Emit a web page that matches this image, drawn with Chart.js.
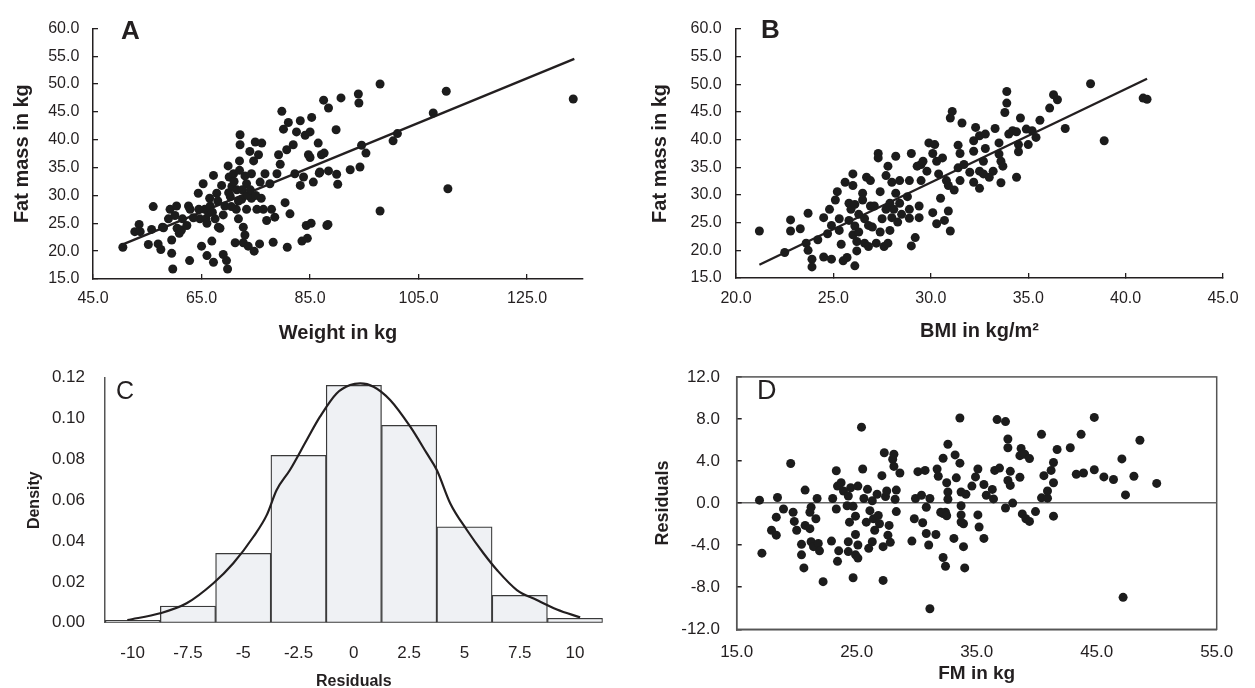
<!DOCTYPE html>
<html>
<head>
<meta charset="utf-8">
<script src="https://cdn.jsdelivr.net/npm/chart.js@4.4.1/dist/chart.umd.min.js"></script>
<style>
  html, body { margin: 0; padding: 0; background: #fff; overflow: hidden; }
  body { width: 1255px; height: 688px; position: relative; }
  canvas { position: absolute; }
</style>
</head>
<body>
<canvas id="chA" width="620" height="348" style="left:0;top:0"></canvas>
<canvas id="chB" width="625" height="348" style="left:630px;top:0"></canvas>
<canvas id="chC" width="625" height="350" style="left:0;top:345px"></canvas>
<canvas id="chD" width="630" height="350" style="left:625px;top:345px"></canvas>
<script>
// ── DATA ──────────────────────────────────────────────
// A: weight vs fat mass
var aWeight = [50.5,53.5,52.7,53.7,55.8,56.1,55.2,57.0,57.5,57.8,58.9,59.2,59.5,59.5,59.7,60.1,60.4,60.5,60.9,61.3,
  62.3,62.6,62.8,62.9,64.4,64.7,65.0,65.3,65.6,65.8,66.0,66.3,66.6,66.9,67.2,67.2,67.5,67.8,68.1,68.4,
  68.7,69.0,69.3,69.6,69.8,69.9,70.1,70.3,70.6,70.9,71.2,71.4,71.5,71.8,72.0,72.1,72.1,72.4,72.7,72.7,
  73.0,73.3,73.3,73.6,73.9,74.2,74.2,74.6,74.7,74.9,75.2,75.5,75.7,75.8,76.1,76.4,76.7,77.0,77.6,77.9,
  78.2,78.5,78.9,79.2,79.5,79.8,80.1,80.4,80.7,80.8,81.0,81.3,81.9,82.2,82.5,83.2,83.2,83.5,83.8,84.1,
  84.3,84.5,84.7,85.0,85.3,85.6,86.5,86.8,87.1,87.5,88.1,88.4,88.4,89.8,90.7,87.6,86.7,89.9,90.1,92.4,
  93.9,94.0,94.2,94.5,95.3,97.9,97.9,100.3,101.1,88.3,107.7,110.1,110.4,133.5,85.0,85.2,
  70.0,71.0,72.5,73.5,71.8,70.5,69.0,67.0,66.0,64.5,68.0,73.0,74.0,75.0,76.0,72.0,63.5,61.5,58.0,66.5];
var aFat = [20.7,24.8,23.5,23.5,23.9,28.0,21.2,21.3,20.3,24.3,25.8,27.5,22.0,19.6,16.8,26.4,28.1,24.1,23.2,23.8,
  24.6,28.1,18.3,27.5,30.4,25.8,20.9,32.1,27.5,25.8,19.2,26.9,28.1,21.8,33.6,18.0,25.8,30.4,24.3,24.1,
  31.8,19.4,28.1,18.3,16.8,35.3,33.3,29.8,31.6,33.9,21.5,27.5,31.0,25.8,36.2,40.9,39.1,29.3,24.3,21.5,
  22.9,27.5,32.1,20.9,37.9,33.9,29.5,36.2,20.0,39.6,27.5,37.3,21.3,32.4,39.4,27.5,33.9,25.5,32.1,27.5,
  21.6,26.1,33.9,37.3,35.6,45.1,41.9,28.7,38.2,20.7,43.1,26.7,39.1,33.9,41.4,43.4,31.8,21.8,33.3,40.8,
  24.6,22.3,37.3,41.4,44.0,32.4,39.4,34.2,37.3,47.1,24.6,45.7,34.4,41.8,47.5,37.6,34.0,33.8,32.0,34.6,
  48.2,46.6,35.1,39.0,37.6,50.0,27.2,39.8,41.1,24.8,44.8,48.7,31.2,47.3,36.8,25.0,
  30.5,32.5,31.0,30.0,29.0,28.0,26.5,27.0,25.0,27.5,29.0,33.5,31.0,30.0,29.5,34.5,26.0,25.8,24.2,29.5];
var aFitX = [50.5, 133.7];
var aFitY = [21.2, 54.5];
var aXTicks = [45, 65, 85, 105, 125];

// B: BMI vs fat mass
var bBmi = [21.2,22.5,22.8,22.8,23.3,23.6,23.7,23.7,23.9,23.9,24.2,24.5,24.5,24.7,24.8,24.9,24.9,25.1,25.2,25.3,
  25.3,25.4,25.5,25.6,25.7,25.8,25.8,25.9,26.0,26.0,26.0,26.1,26.1,26.1,26.2,26.2,26.3,26.3,26.5,26.5,
  26.6,26.6,26.7,26.8,26.8,26.9,26.9,27.0,27.1,27.2,27.3,27.3,27.4,27.4,27.5,27.6,27.7,27.7,27.8,27.8,
  27.9,27.9,28.0,28.0,28.1,28.2,28.2,28.3,28.4,28.4,28.5,28.8,28.9,28.9,28.9,29.0,29.0,29.2,29.3,29.4,
  29.4,29.5,29.5,29.6,29.8,29.9,30.1,30.1,30.2,30.3,30.3,30.4,30.5,30.6,30.7,30.8,30.9,30.9,31.0,31.0,
  31.1,31.2,31.4,31.4,31.5,31.5,31.6,31.7,32.0,32.2,32.2,32.2,32.3,32.5,32.5,32.5,32.7,32.7,32.8,32.8,
  33.2,33.3,33.0,33.9,33.9,33.8,33.5,33.5,33.6,33.7,33.6,34.0,34.2,34.4,34.6,34.5,34.5,34.4,34.9,35.0,
  35.2,35.4,35.6,36.1,36.3,36.5,36.9,38.2,38.9,40.9,41.1];
var bFat = [23.5,19.6,25.5,23.5,23.9,21.3,20.0,26.7,18.4,17.0,21.9,18.8,25.9,23.0,27.4,18.4,24.5,29.1,30.6,23.6,
  25.7,21.1,18.1,32.3,18.7,28.5,25.4,27.4,22.8,33.8,31.7,24.4,17.2,28.3,21.6,19.9,26.5,23.3,30.3,29.1,
  25.7,21.3,33.2,24.5,20.7,32.6,28.0,24.2,28.0,21.3,37.5,36.7,23.3,30.6,25.7,20.7,33.5,27.4,35.2,21.3,
  28.5,23.6,32.3,25.9,27.4,37.0,30.3,25.1,32.6,28.5,26.5,29.7,27.4,32.6,25.8,37.5,20.8,22.3,35.2,28.0,
  25.9,32.6,35.5,36.1,34.3,39.4,26.8,37.5,39.1,36.1,24.8,33.8,29.4,36.7,25.4,32.6,27.1,31.7,23.5,43.9,
  45.1,30.9,34.9,39.0,37.5,32.6,43.0,35.5,34.1,32.3,37.9,39.8,42.2,40.7,31.2,34.3,36.1,33.8,41.0,38.4,
  34.3,42.0,33.2,48.7,46.6,44.9,39.4,37.4,36.1,35.2,32.2,41.0,41.6,41.4,43.9,39.1,37.8,33.2,41.9,39.1,
  41.6,40.4,43.5,45.7,48.1,47.2,42.0,50.1,39.8,47.5,47.3];
var bFitX = [21.2, 41.1];
var bFitY = [17.4, 51.0];

// C: histogram of residuals with density curve
var binMid     = [-10, -7.5, -5, -2.5, 0, 2.5, 5, 7.5, 10];
var binDensity = [0.0012, 0.0082, 0.034, 0.082, 0.1163, 0.0967, 0.047, 0.0134, 0.0022];
var binLabels  = ['-10', '-7.5', '-5', '-2.5', '0', '2.5', '5', '7.5', '10'];
var curveX = [-10.24,-8.76,-7.56,-6.35,-5.45,-4.54,-3.94,-3.49,-2.89,-2.13,-1.53,-0.78,-0.17,0.29,0.89,1.64,
  2.55,3.30,3.75,4.36,5.11,5.86,6.47,7.37,8.27,9.18,10.23];
var curveY = [0.0013,0.0046,0.0095,0.0193,0.0291,0.0421,0.0527,0.065,0.0748,0.0895,0.1009,0.1123,0.1164,0.1172,0.1156,0.1091,
  0.096,0.0829,0.0748,0.0584,0.0454,0.034,0.0258,0.016,0.0111,0.0065,0.0026];

// D: residuals vs fat mass
var dFm = [16.9,17.1,17.9,18.3,18.3,18.4,18.9,19.5,19.7,19.8,20.0,20.4,20.4,20.6,20.7,20.7,21.1,21.1,21.2,21.2,
  21.4,21.6,21.7,21.8,21.9,22.2,22.9,23.0,23.3,23.3,23.4,23.4,23.5,23.7,23.9,24.2,24.3,24.3,24.3,24.4,
  24.5,24.7,24.7,24.9,24.9,24.9,25.1,25.1,25.1,25.4,25.5,25.6,25.8,25.9,26.0,26.1,26.3,26.3,26.4,26.5,
  26.7,26.8,26.9,27.1,27.2,27.2,27.3,27.4,27.5,27.6,27.7,27.8,28.0,28.1,28.1,28.2,28.3,28.3,28.6,29.6,
  29.8,29.9,30.1,30.4,30.5,30.7,30.8,30.8,31.0,31.1,31.1,31.6,31.7,31.8,32.0,32.2,32.2,32.4,32.4,32.5,
  32.6,32.6,32.6,33.1,33.2,33.3,33.6,33.6,33.7,33.7,33.7,33.9,33.9,34.0,34.1,34.6,34.9,35.1,35.1,35.2,
  35.6,35.6,35.8,36.3,36.4,36.7,37.4,37.6,37.6,36.5,36.9,37.8,37.6,37.8,37.4,38.0,38.6,38.7,38.6,39.0,
  39.4,38.8,39.1,39.4,39.9,40.4,40.6,40.4,40.9,40.9,41.2,41.4,41.4,41.7,41.4,42.8,43.3,43.7,43.9,44.8,
  44.8,45.6,46.4,47.1,47.2,47.4,48.1,48.6,50.0,32.2,32.5,33.7];
var dResid = [0.28,-4.76,-2.58,-3.05,-1.34,0.53,-0.56,3.77,-0.87,-1.74,-2.58,-3.92,-4.92,-6.16,1.24,-2.12,-2.43,-0.87,-3.67,-0.40,
  -4.14,-1.49,0.44,-3.83,-4.54,-7.47,-3.61,0.44,3.08,-0.56,1.62,-5.54,-4.54,1.93,1.15,-0.25,0.68,-3.67,-4.61,-1.81,
  1.46,-7.10,-0.31,-1.24,-2.99,-4.92,1.62,-3.98,-5.23,7.22,3.24,0.44,-1.81,1.31,-4.30,-0.72,0.22,-3.67,-1.49,-2.58,
  0.84,-1.18,-1.96,2.61,-4.14,-7.35,4.79,0.62,1.15,-3.05,-2.12,-3.73,4.17,3.49,4.64,0.37,1.24,-0.81,2.86,-3.61,
  -1.49,0.44,2.99,0.75,-1.87,3.11,-0.40,-2.89,-3.98,-10.05,0.44,-2.99,3.24,2.55,-0.87,4.26,-5.17,-6.01,-0.87,1.93,
  1.06,5.60,0.37,-3.36,4.58,2.40,8.09,3.80,-0.25,1.06,-1.12,-4.14,-1.96,-6.16,0.84,1.62,2.49,3.24,-1.12,-2.27,
  1.77,-3.36,0.75,1.3,0.4,7.94,7.75,6.10,5.26,3.11,3.33,3.02,2.15,1.68,-0.47,0.00,2.46,5.20,4.51,4.64,
  4.23,-1.03,-1.49,-1.74,-0.81,6.54,2.61,0.50,0.47,1.15,3.11,3.86,1.93,5.10,-1.24,5.26,2.74,6.54,2.86,3.17,
  8.15,2.49,2.24,4.20,-8.96,0.78,2.55,5.98,1.87,-1.0,-1.2,-1.8];

// ── ESTILO ────────────────────────────────────────────
var FONT = "'Liberation Sans', Arial, Helvetica, sans-serif";
var INK  = '#231f20';
var DOT  = '#1c1c1c';

function zip(xs, ys) { return xs.map(function (x, i) { return { x: x, y: ys[i] }; }); }
function f1(v) { return Number(v).toFixed(1); }

// letter in the corner of each panel
var panelTag = {
  id: 'panelTag',
  afterDraw: function (chart, args, o) {
    if (!o || !o.text) return;
    var c = chart.ctx;
    c.save();
    c.font = o.font;
    c.fillStyle = INK;
    c.textBaseline = 'alphabetic';
    c.fillText(o.text, o.x, o.y);
    c.restore();
  }
};

// full box round the plot area (panel D)
var frameBox = {
  id: 'frameBox',
  afterDatasetsDraw: function (chart, args, o) {
    if (!o || !o.on) return;
    var a = chart.chartArea, c = chart.ctx;
    c.save();
    c.strokeStyle = o.color;
    c.lineWidth = o.width;
    c.strokeRect(a.left, a.top, a.right - a.left, a.bottom - a.top);
    c.restore();
  }
};

Chart.register(panelTag, frameBox);

function baseOpts(pad) {
  return {
    responsive: false,
    animation: false,
    events: [],
    layout: { padding: pad },
    plugins: { legend: { display: false }, tooltip: { enabled: false } }
  };
}

// ── A ────────────────────────────────────────────────
(function () {
  var o = baseOpts({ top: 19, right: 37, left: 0, bottom: 0 });
  o.plugins.panelTag = { text: 'A', x: 121, y: 38.5, font: 'bold 26px ' + FONT };
  o.scales = {
    x: {
      type: 'linear', min: 45, max: 135.3,
      afterBuildTicks: function (s) { s.ticks = aXTicks.map(function (v) { return { value: v }; }); },
      ticks: { callback: f1, font: { family: FONT, size: 16 }, color: INK, padding: 15.4, maxRotation: 0, autoSkip: false },
      grid: { drawOnChartArea: false, tickLength: -5, color: INK, lineWidth: 1.3 },
      border: { color: INK, width: 1.5 },
      title: { display: true, text: 'Weight in kg', color: INK, font: { family: FONT, size: 20, weight: 'bold' }, padding: { top: 0, bottom: 3 } },
      afterFit: function (s) { s.height = 69; }
    },
    y: {
      type: 'linear', min: 15, max: 60,
      ticks: { stepSize: 5, callback: f1, font: { family: FONT, size: 16 }, color: INK, padding: 18.7 },
      grid: { drawOnChartArea: false, tickLength: -5, color: INK, lineWidth: 1.3 },
      border: { color: INK, width: 1.5 },
      title: { display: true, text: 'Fat mass in kg', color: INK, font: { family: FONT, size: 20, weight: 'bold' }, padding: { top: 10, bottom: 0 } },
      afterFit: function (s) { s.width = 93; }
    }
  };
  new Chart(document.getElementById('chA'), {
    type: 'scatter',
    data: {
      datasets: [
        { data: zip(aWeight, aFat), pointRadius: 4.5, backgroundColor: DOT, borderWidth: 0 },
        { data: zip(aFitX, aFitY), showLine: true, borderColor: INK, borderWidth: 2.4, pointRadius: 0 }
      ]
    },
    options: o
  });
})();

// ── B ────────────────────────────────────────────────
(function () {
  var o = baseOpts({ top: 19, right: 24, left: 0, bottom: 0 });
  o.plugins.panelTag = { text: 'B', x: 131, y: 37.5, font: 'bold 26px ' + FONT };
  o.scales = {
    x: {
      type: 'linear', min: 20, max: 45,
      ticks: { stepSize: 5, callback: f1, font: { family: FONT, size: 16 }, color: INK, padding: 16.4, maxRotation: 0 },
      grid: { drawOnChartArea: false, tickLength: -5, color: INK, lineWidth: 1.3 },
      border: { color: INK, width: 1.5 },
      title: { display: true, text: 'BMI in kg/m²', color: INK, font: { family: FONT, size: 20, weight: 'bold' }, padding: { top: 0, bottom: 5 } },
      afterFit: function (s) { s.height = 70; }
    },
    y: {
      type: 'linear', min: 15, max: 60,
      ticks: { stepSize: 5, callback: f1, font: { family: FONT, size: 16 }, color: INK, padding: 19.3 },
      grid: { drawOnChartArea: false, tickLength: -5, color: INK, lineWidth: 1.3 },
      border: { color: INK, width: 1.5 },
      title: { display: true, text: 'Fat mass in kg', color: INK, font: { family: FONT, size: 20, weight: 'bold' }, padding: { top: 18, bottom: 0 } },
      afterFit: function (s) { s.width = 106; }
    }
  };
  new Chart(document.getElementById('chB'), {
    type: 'scatter',
    data: {
      datasets: [
        { data: zip(bBmi, bFat), pointRadius: 4.5, backgroundColor: DOT, borderWidth: 0 },
        { data: zip(bFitX, bFitY), showLine: true, borderColor: INK, borderWidth: 2.4, pointRadius: 0 }
      ]
    },
    options: o
  });
})();

// ── C ────────────────────────────────────────────────
(function () {
  var o = baseOpts({ top: 32.7, right: 22.3, left: 0, bottom: 0 });
  o.plugins.panelTag = { text: 'C', x: 116, y: 53.5, font: '25px ' + FONT };
  o.scales = {
    x: {
      type: 'linear', min: -11.25, max: 11.25, offset: false,
      afterBuildTicks: function (s) { s.ticks = binMid.map(function (v) { return { value: v }; }); },
      ticks: {
        callback: function (v) { return binLabels[binMid.indexOf(v)]; },
        font: { family: FONT, size: 17 }, color: INK, padding: 20, maxRotation: 0, autoSkip: false
      },
      grid: { display: false, drawTicks: false },
      border: { display: false },
      title: { display: true, text: 'Residuals', color: INK, font: { family: FONT, size: 16, weight: 'bold' }, padding: { top: 0, bottom: 4 } },
      afterFit: function (s) { s.height = 72.3; }
    },
    y: {
      type: 'linear', min: 0, max: 0.12,
      ticks: { stepSize: 0.02, callback: function (v) { return Number(v).toFixed(2); }, font: { family: FONT, size: 17 }, color: INK, padding: 20 },
      grid: { display: false, drawTicks: false },
      border: { color: '#555', width: 1.5 },
      title: { display: true, text: 'Density', color: INK, font: { family: FONT, size: 16, weight: 'bold' }, padding: { top: 25, bottom: 0 } },
      afterFit: function (s) { s.width = 105; }
    }
  };
  new Chart(document.getElementById('chC'), {
    type: 'bar',
    data: {
      datasets: [
        { type: 'line', data: zip(curveX, curveY), borderColor: INK, borderWidth: 2.2, pointRadius: 0,
          cubicInterpolationMode: 'monotone', fill: false, order: 0 },
        { type: 'bar', data: zip(binMid, binDensity), backgroundColor: '#eff1f4', borderColor: '#3a3a3a',
          borderWidth: 1.3, borderSkipped: false, barPercentage: 1, categoryPercentage: 1, order: 1 }
      ]
    },
    options: o
  });
})();

// ── D ────────────────────────────────────────────────
(function () {
  var o = baseOpts({ top: 27.3, right: 38.3, left: 0, bottom: 0 });
  o.plugins.panelTag = { text: 'D', x: 132, y: 54, font: '27px ' + FONT };
  o.plugins.frameBox = { on: true, color: '#555', width: 1.5 };
  o.scales = {
    x: {
      type: 'linear', min: 15, max: 55,
      ticks: { stepSize: 10, callback: f1, font: { family: FONT, size: 17 }, color: INK, padding: 13, maxRotation: 0 },
      grid: { display: false, drawTicks: false },
      border: { color: '#555', width: 1.5 },
      title: { display: true, text: 'FM in kg', color: INK, font: { family: FONT, size: 19, weight: 'bold' }, padding: { top: 0, bottom: 10 } },
      afterFit: function (s) { s.height = 65.7; }
    },
    y: {
      type: 'linear', min: -12, max: 12,
      ticks: { stepSize: 4, callback: f1, font: { family: FONT, size: 17 }, color: INK, padding: 21.7 },
      grid: {
        drawOnChartArea: true, tickLength: -5, tickColor: INK, lineWidth: 1.5,
        color: function (ctx) { return ctx.tick && ctx.tick.value === 0 ? '#666' : 'rgba(0,0,0,0)'; }
      },
      border: { color: '#555', width: 1.5 },
      title: { display: true, text: 'Residuals', color: INK, font: { family: FONT, size: 18, weight: 'bold' }, padding: { top: 27.2, bottom: 0 } },
      afterFit: function (s) { s.width = 111.7; }
    }
  };
  new Chart(document.getElementById('chD'), {
    type: 'scatter',
    data: {
      datasets: [
        { data: zip(dFm, dResid), pointRadius: 4.5, backgroundColor: DOT, borderWidth: 0 }
      ]
    },
    options: o
  });
})();
</script>
</body>
</html>
